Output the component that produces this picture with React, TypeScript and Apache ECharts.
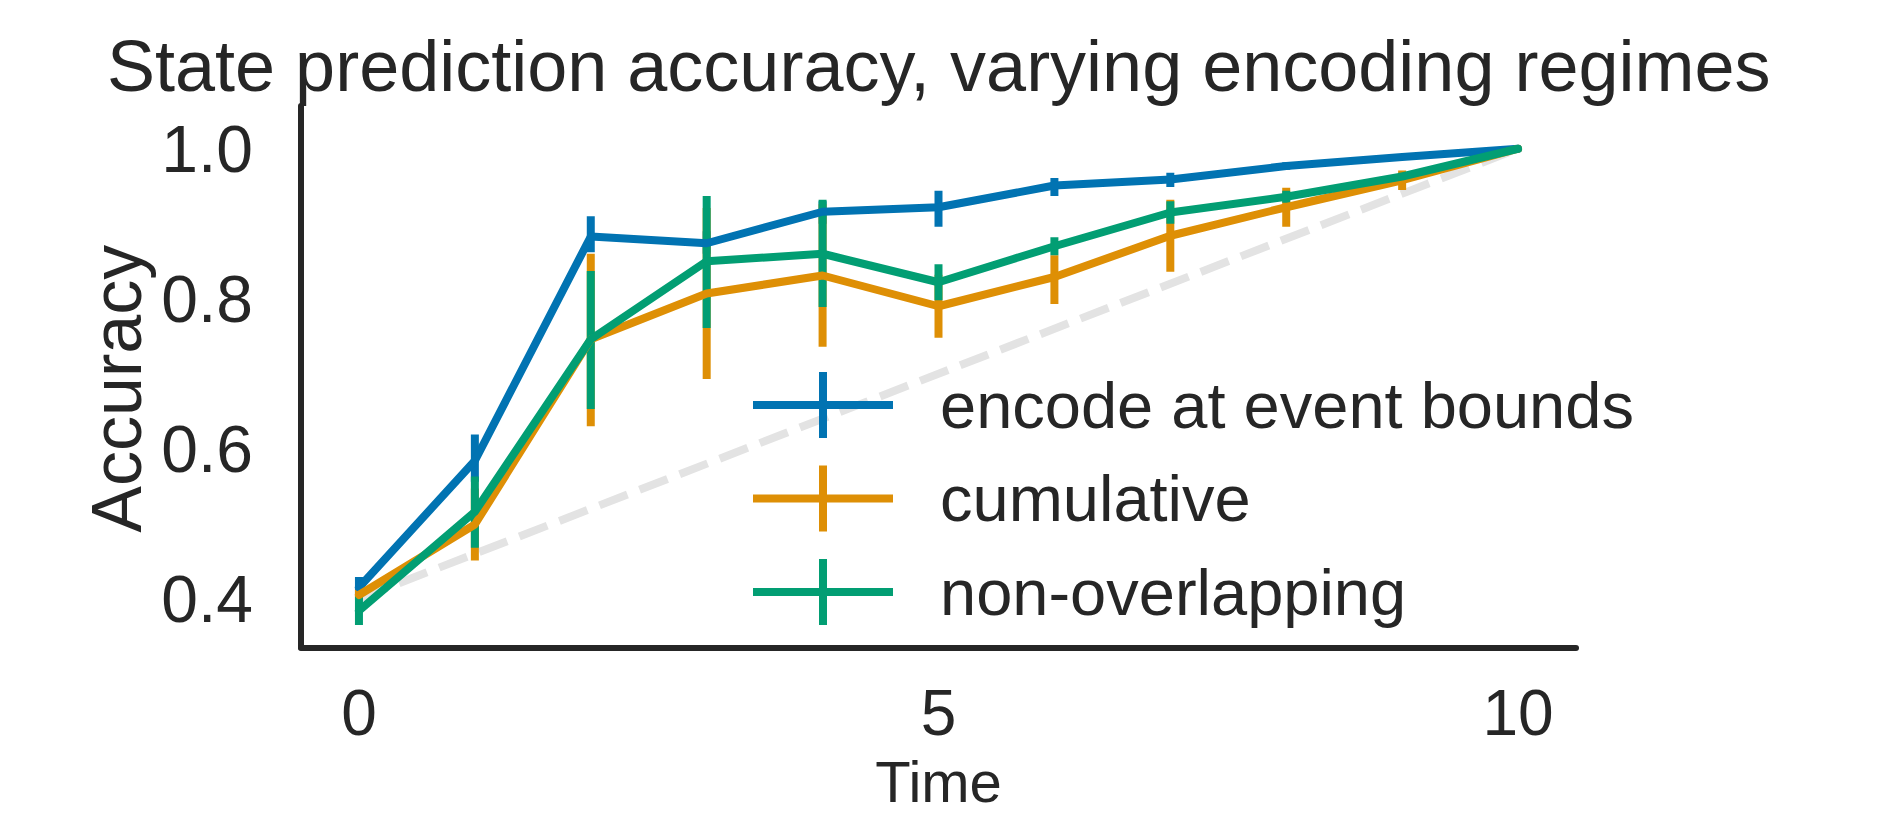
import React, { useEffect, useRef } from "react";
import * as echarts from "echarts";

const timeSteps = [0, 1, 2, 3, 4, 5, 6, 7, 8, 9, 10];

const encodeMean = [0.415, 0.584, 0.883, 0.874, 0.916, 0.922, 0.951, 0.959, 0.977, 0.989, 1.0];
const encodeLow = [0.405, 0.556, 0.862, 0.86, 0.9, 0.896, 0.937, 0.949, 0.972, 0.985, 1.0];
const encodeHigh = [0.429, 0.619, 0.91, 0.89, 0.93, 0.944, 0.961, 0.968, 0.982, 0.993, 1.0];

const cumulativeMean = [0.405, 0.499, 0.746, 0.807, 0.831, 0.79, 0.829, 0.884, 0.922, 0.958, 1.0];
const cumulativeLow = [0.398, 0.451, 0.63, 0.693, 0.736, 0.748, 0.793, 0.836, 0.896, 0.945, 1.0];
const cumulativeHigh = [0.412, 0.547, 0.86, 0.921, 0.926, 0.832, 0.858, 0.932, 0.948, 0.971, 1.0];

const nonOverlapMean = [0.384, 0.516, 0.746, 0.85, 0.86, 0.822, 0.87, 0.915, 0.936, 0.963, 1.0];
const nonOverlapLow = [0.365, 0.468, 0.653, 0.761, 0.789, 0.798, 0.858, 0.9, 0.928, 0.958, 1.0];
const nonOverlapHigh = [0.404, 0.563, 0.837, 0.937, 0.932, 0.846, 0.882, 0.93, 0.944, 0.968, 1.0];

const chanceTime = [0, 10];
const chanceValue = [0.4, 1.0];

const xTicks = [0, 5, 10];
const yTicks = [0.4, 0.6, 0.8, 1.0];

const seriesNames = ["encode at event bounds", "cumulative", "non-overlapping"];
const seriesColors = ["#0173b2", "#de8f05", "#029e73"];

const FONT = "'Liberation Sans', Arial, Helvetica, sans-serif";
const TEXT = "#262626";
const LW = 8;

const legendIcon =
  "path://M0,29 L140,29 L140,37 L0,37 Z M66,0 L74,0 L74,66 L66,66 Z";

function errSeries(name: string, color: string, low: number[], high: number[]) {
  return {
    type: "custom",
    name,
    z: 2,
    silent: true,
    data: timeSteps.map((t, i) => [t, low[i], high[i]]),
    encode: { x: 0, y: [1, 2] },
    renderItem: (_params: any, api: any) => {
      const p1 = api.coord([api.value(0), api.value(1)]);
      const p2 = api.coord([api.value(0), api.value(2)]);
      return {
        type: "line",
        shape: { x1: p1[0], y1: p1[1], x2: p2[0], y2: p2[1] },
        style: { stroke: color, lineWidth: LW, lineCap: "butt" },
      };
    },
  };
}

function lineSeries(name: string, color: string, mean: number[]) {
  return {
    type: "line",
    name,
    z: 3,
    data: timeSteps.map((t, i) => [t, mean[i]]),
    showSymbol: false,
    symbol: "none",
    itemStyle: { color },
    lineStyle: { color, width: LW, cap: "round", join: "round" },
  };
}

export default function App() {
  const ref = useRef<HTMLDivElement>(null);

  useEffect(() => {
    document.body.style.margin = "0";
    if (!ref.current) return;
    const chart = echarts.init(ref.current, undefined, { renderer: "svg" });
    const option: any = {
      animation: false,
      backgroundColor: "#ffffff",
      textStyle: { fontFamily: FONT, color: TEXT },
      title: {
        text: "State prediction accuracy, varying encoding regimes",
        left: 107,
        top: 30,
        padding: 0,
        textStyle: { fontFamily: FONT, fontSize: 72, fontWeight: "normal", color: TEXT },
      },
      grid: {
        left: 301,
        right: 308,
        top: 106,
        bottom: 167.5,
        containLabel: false,
        outerBoundsMode: "none",
      },
      legend: {
        orient: "vertical",
        left: 753,
        top: 372,
        padding: 0,
        itemWidth: 140,
        itemHeight: 66,
        itemGap: 27.5,
        itemStyle: { borderWidth: 0 },
        textStyle: { fontFamily: FONT, fontSize: 65, color: TEXT, padding: [0, 0, 0, 42] },
        data: seriesNames.map((n) => ({ name: n, icon: legendIcon })),
      },
      xAxis: {
        type: "value",
        min: -0.5,
        max: 10.5,
        splitNumber: 2,
        axisLine: { show: true, onZero: false, lineStyle: { color: TEXT, width: 6 } },
        axisTick: { show: false },
        splitLine: { show: false },
        axisLabel: {
          customValues: xTicks,
          fontFamily: FONT,
          fontSize: 64,
          color: TEXT,
          margin: 33,
        },
        name: "Time",
        nameLocation: "middle",
        nameGap: 105,
        nameMoveOverlap: false,
        nameTextStyle: { fontFamily: FONT, fontSize: 58, color: TEXT },
      },
      yAxis: {
        type: "value",
        min: 0.335,
        max: 1.057,
        axisLine: { show: true, onZero: false, lineStyle: { color: TEXT, width: 6 } },
        axisTick: { show: false },
        splitLine: { show: false },
        axisLabel: {
          customValues: yTicks,
          formatter: (v: number) => v.toFixed(1),
          fontFamily: FONT,
          fontSize: 66,
          color: TEXT,
          margin: 48,
        },
        name: "Accuracy",
        nameLocation: "middle",
        nameRotate: 90,
        nameGap: 149,
        nameMoveOverlap: false,
        nameTextStyle: { fontFamily: FONT, fontSize: 70, color: TEXT, padding: [0, 24, 0, 0] },
      },
      series: [
        {
          type: "line",
          name: "chance",
          z: 1,
          silent: true,
          data: chanceTime.map((t, i) => [t, chanceValue[i]]),
          showSymbol: false,
          symbol: "none",
          lineStyle: { color: "#e3e3e3", width: LW, type: [30, 13] },
        },
        errSeries("encode err", seriesColors[0], encodeLow, encodeHigh),
        errSeries("cumulative err", seriesColors[1], cumulativeLow, cumulativeHigh),
        errSeries("non-overlapping err", seriesColors[2], nonOverlapLow, nonOverlapHigh),
        lineSeries(seriesNames[0], seriesColors[0], encodeMean),
        lineSeries(seriesNames[1], seriesColors[1], cumulativeMean),
        lineSeries(seriesNames[2], seriesColors[2], nonOverlapMean),
      ],
    };
    chart.setOption(option);
    return () => chart.dispose();
  }, []);

  return <div ref={ref} style={{ width: 1884, height: 815 }} />;
}
